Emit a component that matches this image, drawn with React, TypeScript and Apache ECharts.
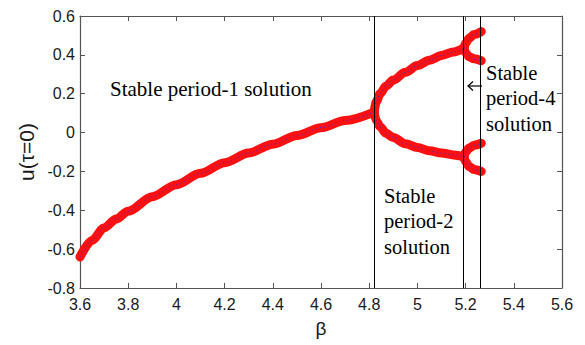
import React, { useEffect, useRef } from "react";
import * as echarts from "echarts";

// Period-1 branch
const betaP1 = [3.6, 3.65, 3.7, 3.75, 3.8, 3.9, 4.0, 4.1, 4.2, 4.3, 4.4, 4.5, 4.6, 4.7, 4.82];
const uP1 = [-0.64, -0.555, -0.49, -0.445, -0.405, -0.33, -0.268, -0.21, -0.155, -0.105, -0.06, -0.015, 0.025, 0.062, 0.105];

// Period-2 branches
const betaP2 = [4.82, 4.83, 4.845, 4.87, 4.9, 4.95, 5.0, 5.05, 5.1, 5.15, 5.193];
const uP2Upper = [0.105, 0.16, 0.2, 0.24, 0.27, 0.31, 0.345, 0.372, 0.397, 0.415, 0.435];
const uP2Lower = [0.105, 0.06, 0.03, -0.004, -0.025, -0.058, -0.077, -0.094, -0.105, -0.115, -0.124];

// Period-4 branches
const betaP4 = [5.193, 5.2, 5.215, 5.235, 5.265];
const uP4UpperHigh = [0.435, 0.46, 0.485, 0.505, 0.52];
const uP4UpperLow = [0.435, 0.41, 0.39, 0.38, 0.37];
const uP4LowerHigh = [-0.124, -0.1, -0.08, -0.065, -0.055];
const uP4LowerLow = [-0.124, -0.15, -0.175, -0.19, -0.2];

// Bifurcation boundaries (vertical lines)
const boundaries = [4.82, 5.193, 5.257];

const annotations = [
  { text: "Stable period-1 solution", x: 110, y: 89, size: 21 },
  { text: "Stable\nperiod-2\nsolution", x: 384, y: 221, size: 20.5 },
  { text: "Stable\nperiod-4\nsolution", x: 486, y: 98, size: 20.5 },
];

const SERIF = "Liberation Serif, Times New Roman, serif";

function branch(xs: number[], ys: number[]) {
  const data = xs.map((x, i) => [x, ys[i]]);
  return [
    {
      type: "line",
      data,
      showSymbol: false,
      smooth: 0.3,
      smoothMonotone: "x",
      lineStyle: { color: "#ff1010", width: 9, cap: "round", join: "round" },
      z: 3,
      silent: true,
    },
    {
      type: "line",
      data,
      showSymbol: false,
      smooth: 0.3,
      smoothMonotone: "x",
      lineStyle: { color: "#2a2aff", width: 1, type: [1, 3] },
      z: 4,
      silent: true,
    },
  ];
}

export default function App() {
  const ref = useRef<HTMLDivElement>(null);
  useEffect(() => {
    if (!ref.current) return;
    const chart = echarts.init(ref.current, undefined, { renderer: "svg" });
    const axisColor = "#555";
    const labelStyle = { color: "#1a1a1a", fontFamily: "Liberation Sans", fontSize: 16 };
    const xCommon = { type: "value", min: 3.6, max: 5.6, interval: 0.2 };
    const yCommon = { type: "value", min: -0.8, max: 0.6, interval: 0.2 };
    const line = { show: true, onZero: false, lineStyle: { color: axisColor, width: 1.2 } };
    const tick = { show: true, inside: true, length: 5, lineStyle: { color: axisColor } };
    const fmt = (v: number) => String(Math.round(v * 10) / 10);
    chart.setOption({
      animation: false,
      backgroundColor: "#fff",
      grid: { left: 80, right: 23, top: 16, bottom: 57 },
      xAxis: [
        {
          ...xCommon,
          position: "bottom",
          name: "β",
          nameLocation: "middle",
          nameGap: 31,
          nameTextStyle: { color: "#1a1a1a", fontFamily: "Liberation Sans", fontSize: 19 },
          axisLine: line,
          axisTick: tick,
          axisLabel: { ...labelStyle, margin: 8, formatter: fmt },
          splitLine: { show: false },
        },
        {
          ...xCommon,
          position: "top",
          axisLine: line,
          axisTick: tick,
          axisLabel: { show: false },
          splitLine: { show: false },
        },
      ],
      yAxis: [
        {
          ...yCommon,
          position: "left",
          name: "u(τ=0)",
          nameLocation: "middle",
          nameRotate: 90,
          nameGap: 43,
          nameTextStyle: { color: "#1a1a1a", fontFamily: "Liberation Sans", fontSize: 21 },
          axisLine: line,
          axisTick: tick,
          axisLabel: { ...labelStyle, margin: 5, formatter: fmt },
          splitLine: { show: false },
        },
        {
          ...yCommon,
          position: "right",
          axisLine: line,
          axisTick: tick,
          axisLabel: { show: false },
          splitLine: { show: false },
        },
      ],
      series: [
        {
          type: "line",
          data: [],
          z: 1,
          silent: true,
          markLine: {
            silent: true,
            symbol: ["none", "none"],
            label: { show: false },
            lineStyle: { color: "#000", width: 1, type: "solid" },
            data: boundaries.map((b) => ({ xAxis: b })),
          },
        },
        ...branch(betaP1, uP1),
        ...branch(betaP2, uP2Upper),
        ...branch(betaP2, uP2Lower),
        ...branch(betaP4, uP4UpperHigh),
        ...branch(betaP4, uP4UpperLow),
        ...branch(betaP4, uP4LowerHigh),
        ...branch(betaP4, uP4LowerLow),
      ],
      title: annotations.map((a) => ({
        text: a.text,
        left: a.x,
        top: a.y - (a.text.includes("\n") ? 38 : 13),
        padding: 0,
        itemGap: 0,
        textStyle: {
          fontFamily: SERIF,
          fontSize: a.size,
          fontWeight: "normal",
          color: "#000",
          lineHeight: 25.5,
        },
      })),
      graphic: [
        {
          type: "line",
          z: 10,
          shape: { x1: 468, y1: 86, x2: 482, y2: 86 },
          style: { stroke: "#000", lineWidth: 1.2 },
        },
        {
          type: "polyline",
          z: 10,
          shape: { points: [[473, 81.5], [468, 86], [473, 90.5]] },
          style: { stroke: "#000", lineWidth: 1.2, fill: null },
        },
      ],
    });
    return () => chart.dispose();
  }, []);
  return <div ref={ref} style={{ position: "fixed", left: 0, top: 0, width: 585, height: 345 }} />;
}
